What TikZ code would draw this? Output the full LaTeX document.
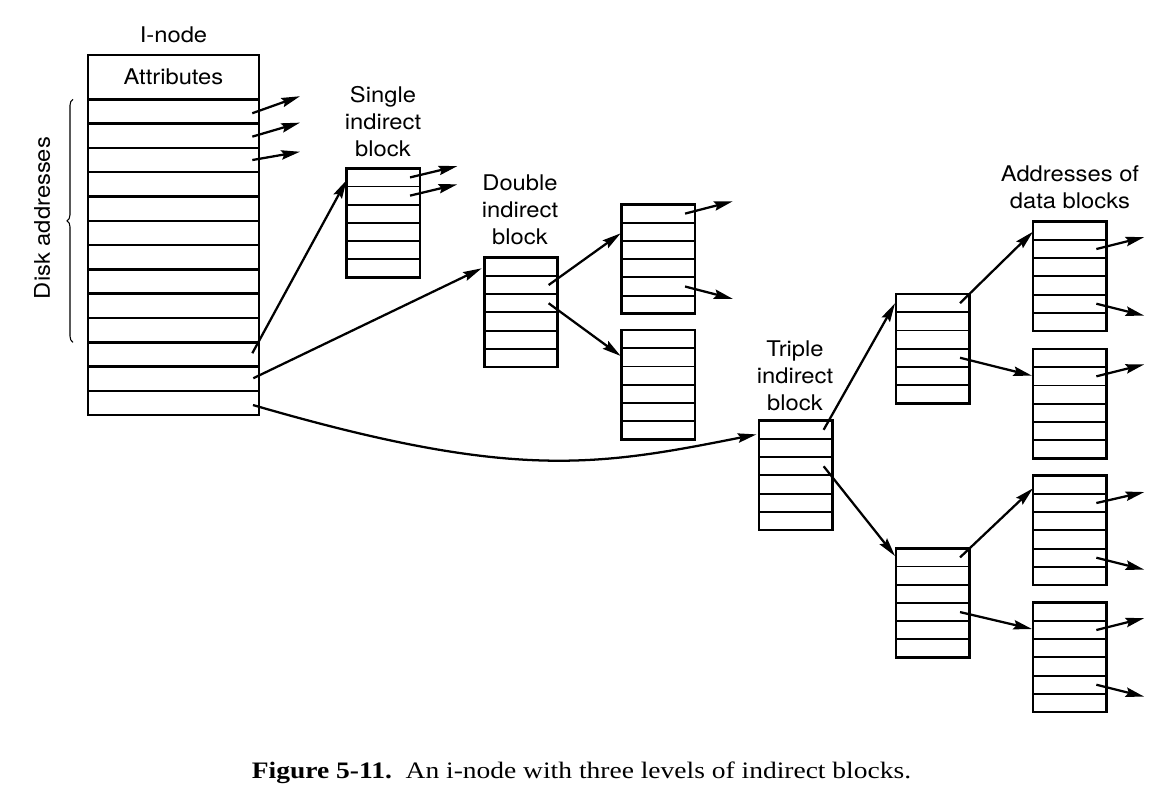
\documentclass[tikz,border=0pt]{standalone}
\usepackage{fontspec}
\newfontfamily\labfont[FakeStretch=1.1]{TeX Gyre Heros}
\newfontfamily\capfont[FakeStretch=1.165]{Liberation Serif}
\usetikzlibrary{arrows.meta,calc,decorations.pathreplacing}
\begin{document}
\begin{tikzpicture}[x=0.75pt,y=-0.75pt,
  lab/.style={font=\labfont\fontsize{16.2pt}{20.25pt}\selectfont, align=center, inner sep=0pt},
  inrow/.style={draw, line width=1.9pt, minimum width=128.25pt, minimum height=18.2pt, inner sep=0pt, outer sep=0pt, anchor=north west},
  blk/.style={draw, line width=2.1pt, minimum width=55pt, minimum height=82pt, inner sep=0pt, outer sep=0pt, anchor=north west},
  sep/.style={line width=1.4pt},
  arr/.style={line width=1.7pt, -{Stealth[length=14pt,width=7pt,inset=2pt]}},
]
\useasboundingbox (0,0) rectangle (1172,804);

% I-node
\node[inrow, minimum height=33.2pt] (attr) at (88,55) {};
\node[lab] (attrtxt) at (attr.center) {Attributes};
\foreach \i in {1,...,13}
  \node[inrow] (r\i) at (88,{99.3+(\i-1)*24.3}) {};
\node[lab] (inodelab) at (173.5,35) {I-node};
\draw[line width=0.8pt, decorate, decoration={brace, amplitude=4.5pt}]
  ($(r10.south west)+(-15,0)$) -- ($(r1.north west)+(-15,0)$);
\node[lab, rotate=90, anchor=base] (disklab) at (50,218) {Disk addresses};

% blocks
\foreach \n/\xx/\yy in {S/346.7/168.3, D/484.3/257.7, U/621.7/204.5, L/621.7/330,
    T/759/420.7, M1/896/294, M2/896/548.3, A/1033/221.7, B/1033/349, C/1033/475.7, E/1033/602.7} {
  \node[blk] (\n) at (\xx,\yy) {};
  \foreach \k in {1,...,5}
    \draw[sep] ($(\n.north west)!\k/6!(\n.south west)$) -- ($(\n.north east)!\k/6!(\n.south east)$);
}

% labels
\node[lab] (slab) at (383,122) {Single\\indirect\\block};
\node[lab] (dlab) at (520,210) {Double\\indirect\\block};
\node[lab] (tlab) at (795,376) {Triple\\indirect\\block};
\node[lab] (alab) at (1070,187.5) {Addresses of\\data blocks};

% direct addresses
\draw[arr] ($(r1.east)+(-6.7,1.8)$) -- ++(47.7,-17);
\draw[arr] ($(r2.east)+(-6.7,0.9)$) -- ++(47.7,-14);
\draw[arr] ($(r3.east)+(-6.7,0)$) -- ++(47.7,-8.3);

% indirect pointers from i-node
\draw[arr] ($(r11.east)+(-6.7,-1.2)$) -- ($(S.north west)+(0,11.7)$);
\draw[arr] ($(r12.east)+(-5.7,-0.5)$) -- ($(D.north west)+(-2.6,10.6)$);
\draw[arr] ($(r13.east)+(-6,2)$) .. controls +(261,76) and +(-159.5,31.6) .. ($(T.north west)+(-2.5,13.7)$);

% single indirect
\draw[arr] ($(S.north east)!0.0833!(S.south east)+(-10,0)$) -- ++(47.3,-11.3);
\draw[arr] ($(S.north east)!0.25!(S.south east)+(-10,0)$) -- ++(47.3,-11.3);

% double indirect
\draw[arr] ($(D.north east)!0.25!(D.south east)+(-9,0)$) -- ($(U.north west)+(-1,28.8)$);
\draw[arr] ($(D.north east)!0.4167!(D.south east)+(-9,0)$) -- ($(L.north west)+(-1,26)$);
\draw[arr] ($(U.north east)!0.0833!(U.south east)+(-10,0)$) -- ++(47.7,-12.3);
\draw[arr] ($(U.north east)!0.75!(U.south east)+(-10,0)$) -- ++(47.7,12.3);

% triple indirect
\draw[arr] ($(T.north east)!0.0833!(T.south east)+(-8.7,0)$) -- ($(M1.north west)+(-1,9.3)$);
\draw[arr] ($(T.north east)!0.4167!(T.south east)+(-8.7,0)$) -- ($(M2.north west)+(-1,7.7)$);
\draw[arr] ($(M1.north east)!0.0833!(M1.south east)+(-9.3,0)$) -- ($(A.north west)+(0,10)$);
\draw[arr] ($(M1.north east)!0.5833!(M1.south east)+(-9.3,0)$) -- ($(B.north west)+(-1,26.7)$);
\draw[arr] ($(M2.north east)!0.0833!(M2.south east)+(-9.3,0)$) -- ($(C.north west)+(0,12.6)$);
\draw[arr] ($(M2.north east)!0.5833!(M2.south east)+(-9.3,0)$) -- ($(E.north west)+(-1,26.3)$);

% data block addresses
\draw[arr] ($(A.north east)!0.25!(A.south east)+(-10,0)$) -- ++(48,-12);
\draw[arr] ($(A.north east)!0.75!(A.south east)+(-10,0)$) -- ++(48,12);
\draw[arr] ($(B.north east)!0.25!(B.south east)+(-10,0)$) -- ++(48,-12);
\draw[arr] ($(C.north east)!0.25!(C.south east)+(-10,0)$) -- ++(48,-11);
\draw[arr] ($(C.north east)!0.75!(C.south east)+(-10,0)$) -- ++(48,12);
\draw[arr] ($(E.north east)!0.25!(E.south east)+(-10,0)$) -- ++(48,-12);
\draw[arr] ($(E.north east)!0.75!(E.south east)+(-10,0)$) -- ++(48,12);

% caption
\node[font=\capfont\fontsize{17.7pt}{20pt}\selectfont, anchor=base, inner sep=0pt] (cap) at (581.5,778.3)
  {\textbf{Figure 5-11.}\ \ An i-node with three levels of indirect blocks.};
\end{tikzpicture}
\end{document}
